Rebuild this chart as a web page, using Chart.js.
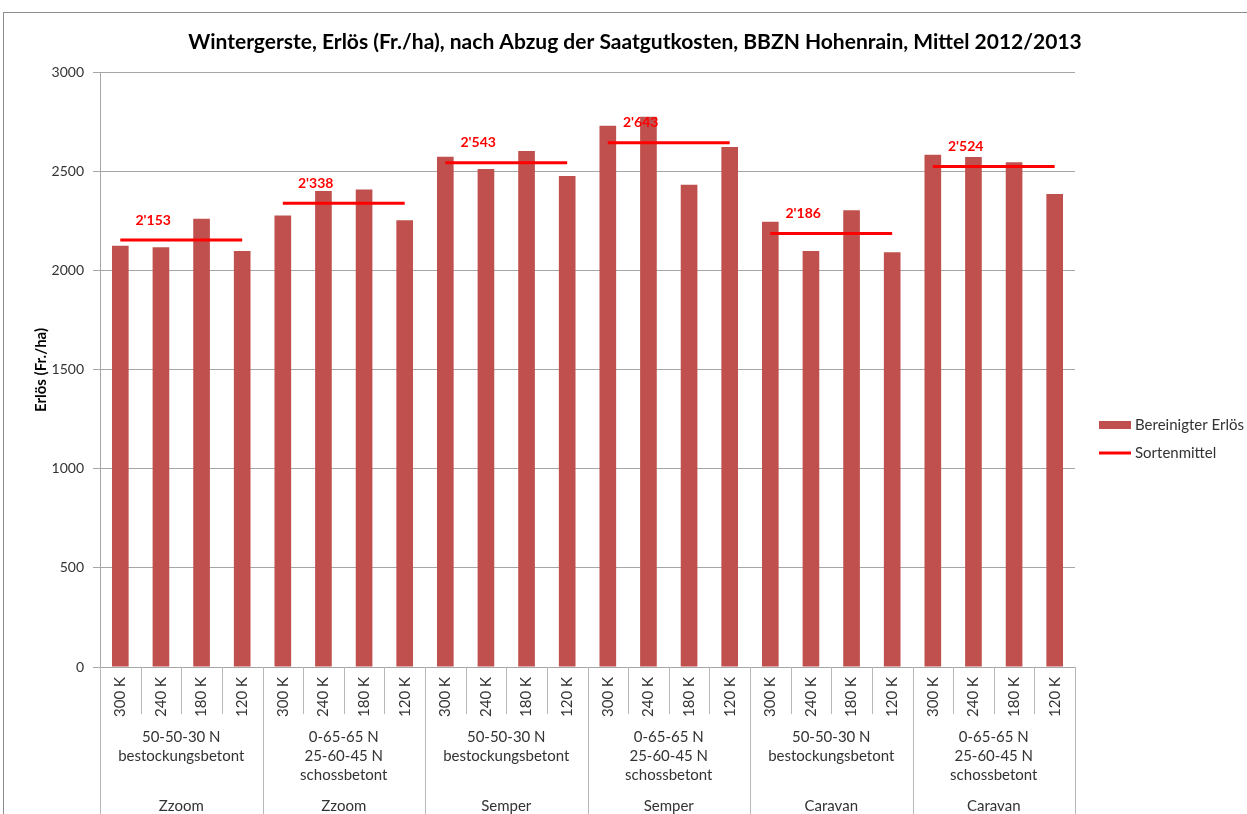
<!DOCTYPE html>
<html lang="de">
<head>
<meta charset="utf-8" />
<title>Wintergerste Erlös</title>
<script src="https://cdn.jsdelivr.net/npm/chart.js"></script>
<style>
  html, body { margin: 0; padding: 0; background: #fff; }
  #wrap { width: 1247px; height: 814px; }
</style>
</head>
<body>
<div id="wrap"><canvas id="chart" width="1247" height="814"></canvas></div>
<script>
// Saatdichte (Körner/m2) pro Balken
const saatdichte = [
  "300 K", "240 K", "180 K", "120 K",
  "300 K", "240 K", "180 K", "120 K",
  "300 K", "240 K", "180 K", "120 K",
  "300 K", "240 K", "180 K", "120 K",
  "300 K", "240 K", "180 K", "120 K",
  "300 K", "240 K", "180 K", "120 K"
];
// Düngungsvariante pro Gruppe (mehrzeilig)
const duengung = [
  ["50-50-30 N", "bestockungsbetont"],
  ["0-65-65 N", "25-60-45 N", "schossbetont"],
  ["50-50-30 N", "bestockungsbetont"],
  ["0-65-65 N", "25-60-45 N", "schossbetont"],
  ["50-50-30 N", "bestockungsbetont"],
  ["0-65-65 N", "25-60-45 N", "schossbetont"]
];
const sorten = ["Zzoom", "Zzoom", "Semper", "Semper", "Caravan", "Caravan"];

// Bereinigter Erlös (Fr./ha)
const erloes = [
  2124, 2116, 2260, 2097,
  2277, 2400, 2408, 2252,
  2573, 2511, 2602, 2476,
  2729, 2775, 2432, 2622,
  2245, 2097, 2303, 2091,
  2583, 2571, 2545, 2385
];
// Sortenmittel pro Gruppe
const sortenmittel = [2153, 2338, 2543, 2643, 2186, 2524];

const yTicks = [0, 500, 1000, 1500, 2000, 2500, 3000];

const FONT = "Lato, 'Open Sans', sans-serif";
Chart.defaults.font.family = FONT;
Chart.defaults.color = "#333";

function fmtCH(v) {
  return Math.floor(v / 1000) + "'" + String(v % 1000).padStart(3, "0");
}

const mittelSets = sortenmittel.map((m, g) => ({
  type: "line",
  label: "Sortenmittel",
  data: saatdichte.map((_, i) => (Math.floor(i / 4) === g ? m : null)),
  borderColor: "#ff0000",
  borderWidth: 3,
  pointRadius: 0,
  spanGaps: false,
  order: 0
}));

const drawExtras = {
  id: "drawExtras",
  beforeDraw(chart) {
    const c = chart.ctx;
    c.save();
    c.fillStyle = "#fff";
    c.fillRect(0, 0, chart.width, chart.height);
    c.strokeStyle = "#8c8c8c";
    c.lineWidth = 1;
    c.strokeRect(3.5, 12.5, chart.width + 20, chart.height + 20);
    c.restore();
  },
  afterDraw(chart) {
    const c = chart.ctx;
    const area = chart.chartArea;
    const xs = chart.scales.x;
    const n = saatdichte.length;
    const catW = (area.right - area.left) / n;
    c.save();

    // Titel
    c.fillStyle = "#000";
    c.font = "bold 21px " + FONT;
    c.textAlign = "center";
    c.textBaseline = "middle";
    c.fillText("Wintergerste, Erlös (Fr./ha), nach Abzug der Saatgutkosten, BBZN Hohenrain, Mittel 2012/2013", 635, 42);

    // y-Achsentitel
    c.save();
    c.translate(41, 370);
    c.rotate(-Math.PI / 2);
    c.font = "bold 15px " + FONT;
    c.fillText("Erlös (Fr./ha)", 0, 0);
    c.restore();

    // Trennlinien unter der x-Achse
    c.strokeStyle = "#b8b8b8";
    c.lineWidth = 1;
    for (let i = 0; i <= n; i++) {
      const x = Math.round(area.left + i * catW) + 0.5;
      c.beginPath();
      c.moveTo(x, area.bottom);
      c.lineTo(x, i % 4 === 0 ? chart.height : area.bottom + 47);
      c.stroke();
    }

    // Gruppenbeschriftung
    c.fillStyle = "#333";
    c.font = "15px " + FONT;
    c.textAlign = "center";
    c.textBaseline = "middle";
    duengung.forEach((lines, g) => {
      const cx = area.left + (g * 4 + 2) * catW;
      lines.forEach((t, k) => c.fillText(t, cx, 737 + k * 19));
      c.fillText(sorten[g], cx, 806);
    });

    // Mittelwert-Beschriftung
    c.fillStyle = "#ff0000";
    c.font = "bold 14px " + FONT;
    sortenmittel.forEach((m, g) => {
      const x0 = xs.getPixelForValue(g * 4);
      const x1 = xs.getPixelForValue(g * 4 + 3);
      const y = chart.scales.y.getPixelForValue(m);
      c.fillText(fmtCH(m), x0 + (x1 - x0) * 0.27, y - 20);
    });

    // Legende
    const lx = 1099, ly = 425;
    c.fillStyle = "#c0504d";
    c.fillRect(lx, ly - 4, 32, 8);
    c.strokeStyle = "#ff0000";
    c.lineWidth = 3;
    c.beginPath();
    c.moveTo(lx, ly + 28);
    c.lineTo(lx + 32, ly + 28);
    c.stroke();
    c.fillStyle = "#333";
    c.font = "15px " + FONT;
    c.textAlign = "left";
    c.fillText(chart.data.datasets[0].label, lx + 36, ly);
    c.fillText(mittelSets[0].label, lx + 36, ly + 28);
    c.restore();
  }
};

new Chart(document.getElementById("chart"), {
  type: "bar",
  data: {
    labels: saatdichte,
    datasets: [
      {
        label: "Bereinigter Erlös",
        data: erloes,
        backgroundColor: "#c0504d",
        barPercentage: 0.41,
        categoryPercentage: 1.0,
        order: 1
      },
      ...mittelSets
    ]
  },
  options: {
    responsive: false,
    animation: false,
    layout: { padding: { top: 72, right: 172, bottom: 0, left: 0 } },
    plugins: {
      legend: { display: false },
      tooltip: { enabled: false }
    },
    scales: {
      x: {
        grid: { display: false, drawTicks: false },
        border: { display: true, color: "#a6a6a6" },
        ticks: {
          minRotation: 90,
          maxRotation: 90,
          padding: 10,
          autoSkip: false,
          font: { size: 15 },
          color: "#333"
        },
        afterFit(scale) { scale.height = 147; }
      },
      y: {
        min: 0,
        max: 3000,
        afterBuildTicks(scale) { scale.ticks = yTicks.map(v => ({ value: v })); },
        grid: { color: "#a6a6a6", tickLength: 7 },
        border: { display: true, color: "#a6a6a6" },
        ticks: {
          padding: 9,
          font: { size: 14 },
          color: "#333",
          callback: v => String(v)
        },
        afterFit(scale) { scale.width = 100; }
      }
    }
  },
  plugins: [drawExtras]
});
</script>
</body>
</html>
